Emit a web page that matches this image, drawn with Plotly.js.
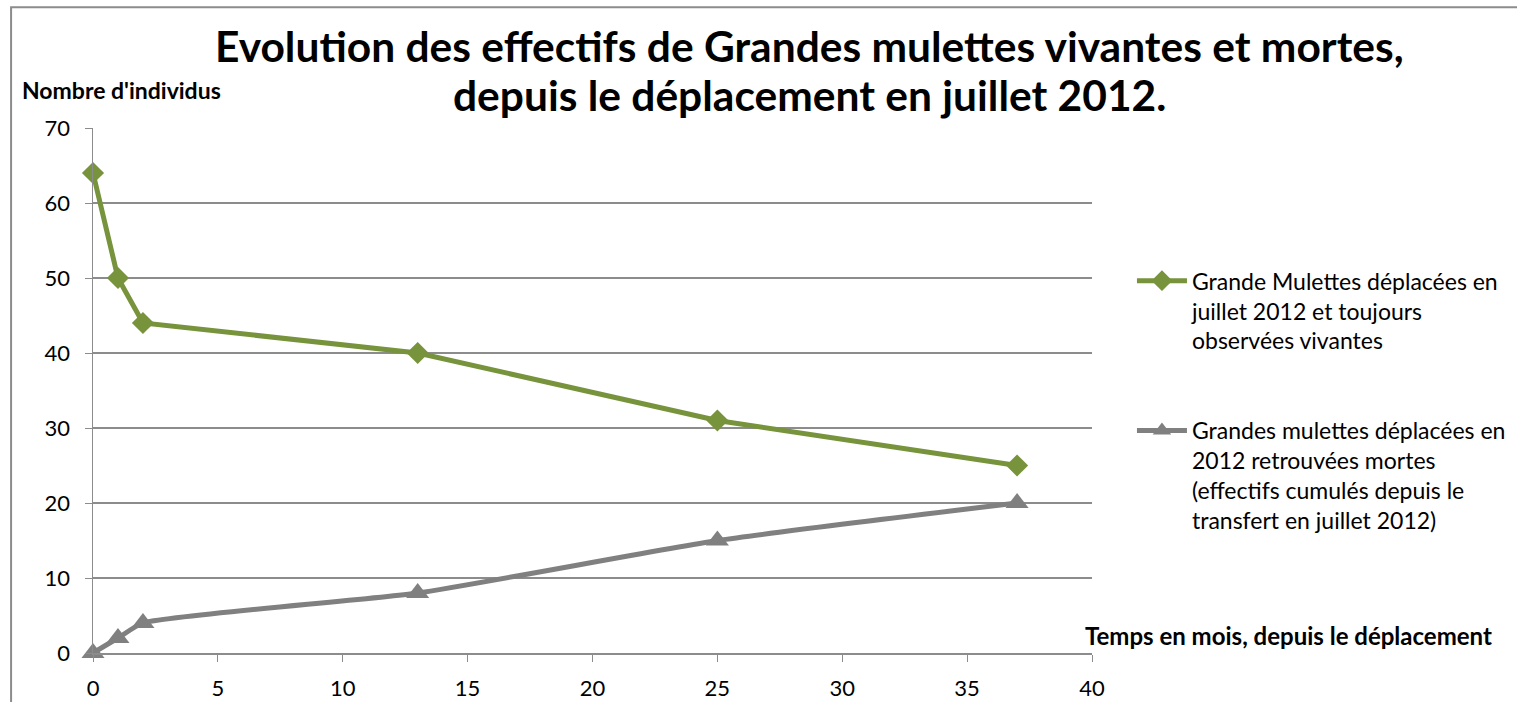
<!DOCTYPE html>
<html><head><meta charset="utf-8">
<script src="https://cdn.plot.ly/plotly-3.0.1.min.js"></script>
<style>html,body{margin:0;padding:0;background:#fff;}#chart{width:1517px;height:702px;}</style>
</head><body><div id="chart"></div>
<script>
const months = [0, 1, 2, 13, 25, 37];
const vivantes = [64, 50, 44, 40, 31, 25];
const mortes = [0, 2, 4, 8, 15, 20];
const nameVivantes = "Grande Mulettes déplacées en<br>juillet 2012 et toujours<br>observées vivantes";
const nameMortes = "Grandes mulettes déplacées en<br>2012 retrouvées mortes<br>(effectifs cumulés depuis le<br>transfert en juillet 2012)";
const titleLine1 = "Evolution des effectifs de Grandes mulettes vivantes et mortes,";
const titleLine2 = "depuis le déplacement en juillet 2012.";
const yTitle = "Nombre d'individus";
const xTitle = "Temps en mois, depuis le déplacement";
const xTicks = [0, 5, 10, 15, 20, 25, 30, 35, 40];
const yTicks = [0, 10, 20, 30, 40, 50, 60, 70];

const FONT = "Lato, 'Open Sans', sans-serif";
const data = [
  {x: months, y: vivantes, name: nameVivantes, type: 'scatter', mode: 'lines+markers',
   line: {color: '#77933C', width: 5},
   marker: {symbol: 'diamond', size: 17, color: '#77933C'},
   cliponaxis: false, legendgroup: 'a'},
  {x: months, y: mortes, name: nameMortes, type: 'scatter', mode: 'lines+markers',
   line: {color: '#808080', width: 5, shape: 'spline', smoothing: 0.5},
   marker: {symbol: 'triangle-up', size: 20, color: '#808080'},
   cliponaxis: false, legendgroup: 'b'}
];
const layout = {
  width: 1517, height: 702,
  margin: {l: 93, r: 425, t: 128, b: 49, autoexpand: false},
  paper_bgcolor: '#fff', plot_bgcolor: '#fff',
  font: {family: FONT, color: '#000', size: 22},
  xaxis: {range: [0, 40], tickvals: xTicks, showgrid: false, zeroline: false,
          showline: true, linecolor: '#8c8c8c', linewidth: 1.5, automargin: false,
          ticks: 'outside', ticklen: 7, tickcolor: '#8c8c8c', tickfont: {size: 22},
          ticklabelstandoff: 8},
  yaxis: {range: [0, 70], tickvals: yTicks, showgrid: true, gridcolor: '#8c8c8c', gridwidth: 1.5,
          zeroline: false, showline: true, linecolor: '#8c8c8c', linewidth: 1.5, automargin: false,
          ticks: 'outside', ticklen: 7, tickcolor: '#8c8c8c', tickfont: {size: 22},
          ticklabelstandoff: 10},
  showlegend: true,
  legend: {x: 1.04, xanchor: 'left', y: 0.75, yanchor: 'top', traceorder: 'grouped',
           tracegroupgap: 57, font: {size: 23, family: FONT}, itemwidth: 50, valign: 'top',
           bgcolor: 'rgba(0,0,0,0)'},
  annotations: [
    {text: "<b>" + titleLine1 + "</b>", xref: 'paper', yref: 'paper', x: 0.7177, y: 1.158,
     xanchor: 'center', yanchor: 'middle', showarrow: false, font: {size: 42.5}},
    {text: "<b>" + titleLine2 + "</b>", xref: 'paper', yref: 'paper', x: 0.7177, y: 1.063,
     xanchor: 'center', yanchor: 'middle', showarrow: false, font: {size: 42.5}},
    {text: "<b>" + yTitle + "</b>", xref: 'paper', yref: 'paper', x: -0.073, y: 1.0724,
     xanchor: 'left', yanchor: 'middle', showarrow: false, font: {size: 23}},
    {text: "<b>" + xTitle + "</b>", xref: 'paper', yref: 'paper', x: 0.991, y: 0.0324,
     xanchor: 'left', yanchor: 'middle', showarrow: false, font: {size: 24}}
  ],
  shapes: [
    {type: 'rect', xref: 'paper', yref: 'paper', x0: -0.082, x1: 1.46, y0: -0.2, y1: 1.23,
     line: {color: '#8c8c8c', width: 2}, fillcolor: 'rgba(0,0,0,0)', layer: 'below'}
  ]
};
Plotly.newPlot('chart', data, layout, {displayModeBar: false, staticPlot: true});
</script></body></html>
